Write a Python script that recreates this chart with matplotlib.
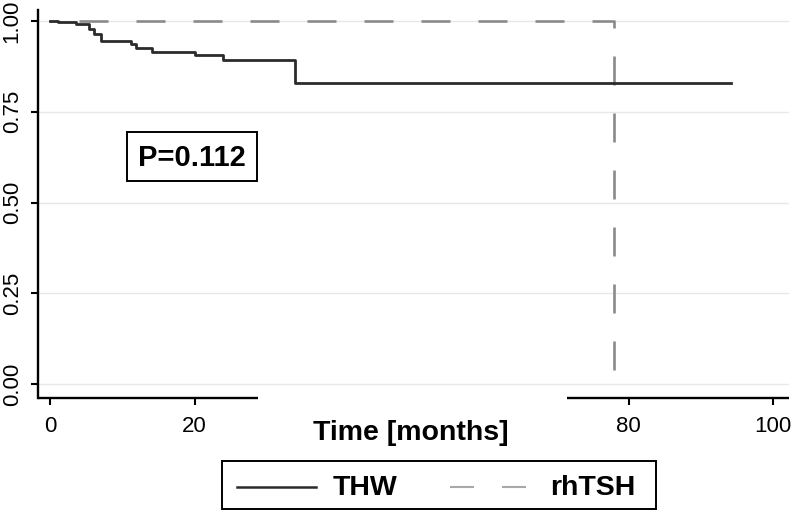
import matplotlib
matplotlib.use("Agg")
import matplotlib.pyplot as plt
from matplotlib.patches import Rectangle
from matplotlib.lines import Line2D

plt.rcParams['font.family'] = ['Liberation Sans', 'DejaVu Sans']
plt.rcParams['lines.scale_dashes'] = False

# ---- data ----
thw_time = [0.0, 1.1, 3.6, 5.4, 6.1, 7.0, 11.2, 11.9, 14.1, 20.0, 23.9, 33.9, 94.1]
thw_surv = [1.0, 0.996, 0.991, 0.978, 0.964, 0.946, 0.937, 0.926, 0.914, 0.906, 0.892, 0.830, 0.830]
rh_time = [0.0, 78.0]
rh_surv = [1.0, 0.0]
x_ticks = [0, 20, 80, 100]
y_ticks = [0.0, 0.25, 0.5, 0.75, 1.0]
y_ticklabels = ["0.00", "0.25", "0.50", "0.75", "1.00"]
p_text = "P=0.112"
x_label = "Time [months]"
series_names = ["THW", "rhTSH"]

W, H = 792, 511
fig = plt.figure(figsize=(W / 100, H / 100), dpi=100)

# plot axes positioned to match the reference
ax_l, ax_r, ax_t, ax_b = 37.7, 789.0, 10.0, 397.5
ax = fig.add_axes([ax_l / W, 1 - ax_b / H, (ax_r - ax_l) / W, (ax_b - ax_t) / H])

px_per_x = 7.233
x0_px = 50.0
ax.set_xlim((ax_l - x0_px) / px_per_x, (ax_r - x0_px) / px_per_x)
y0_px, px_per_y = 384.3, 363.3
ax.set_ylim((y0_px - ax_b) / px_per_y, (y0_px - ax_t) / px_per_y)

px = 0.72  # points per pixel
ax.plot(thw_time, thw_surv, drawstyle='steps-post', color='#2b2b2b', lw=2.0, zorder=3)
ax.plot(rh_time, rh_surv, drawstyle='steps-post', color='#8a8a8a', lw=1.9,
        linestyle=(28 * px, (29 * px, 28 * px)), zorder=2)

# axes styling
for s in ['top', 'right', 'bottom']:
    ax.spines[s].set_visible(False)
ax.spines['left'].set_linewidth(1.7)
ax.spines['left'].set_color('black')

# bottom axis line interrupted by the axis title
gap_l = (258.0 - ax_l) / (ax_r - ax_l)
gap_r = (566.7 - ax_l) / (ax_r - ax_l)
for a, b in [(0, gap_l), (gap_r, 1)]:
    ax.add_line(Line2D([a, b], [0, 0], transform=ax.transAxes, color='black',
                       lw=1.7, clip_on=False, solid_capstyle='butt'))

ax.set_xticks(x_ticks)
ax.set_yticks(y_ticks)
ax.set_yticklabels(y_ticklabels)
ax.tick_params(axis='both', direction='out', length=5, width=1.5, color='black',
               labelsize=16)
ax.tick_params(axis='x', pad=8)
ax.tick_params(axis='y', pad=5.8, labelrotation=90)
for lab in ax.get_yticklabels():
    lab.set_va('center')

ax.yaxis.grid(True, color='#e8e8e8', lw=1.0)
ax.set_axisbelow(True)

# overlay in pixel coordinates for annotations
ov = fig.add_axes([0, 0, 1, 1])
ov.set_xlim(0, W)
ov.set_ylim(H, 0)
ov.axis('off')
ov.patch.set_visible(False)

ov.text(410.5, 440, x_label, ha='center', va='baseline', fontsize=20.5, weight='bold')

# P value box
ov.add_patch(Rectangle((126.7, 131.7), 130, 49, fill=False, lw=1.4, ec='black'))
ov.text(192.3, 166, p_text, ha='center', va='baseline', fontsize=21, weight='bold')

# legend
ov.add_patch(Rectangle((221.7, 460.7), 434.3, 48.6, fill=False, lw=1.4, ec='black',
                       clip_on=False))
ov.add_line(Line2D([236.7, 316], [486.7, 486.7], color='#2b2b2b', lw=1.8))
ov.text(333, 495, series_names[0], ha='left', va='baseline', fontsize=20.5, weight='bold')
ov.add_line(Line2D([450, 526.7], [486.7, 486.7], color='#a8a8a8', lw=1.5,
                   linestyle=(0, (24 * px, 28 * px))))
ov.text(550, 495, series_names[1], ha='left', va='baseline', fontsize=20.5, weight='bold')

fig.savefig('out.png', dpi=100)
